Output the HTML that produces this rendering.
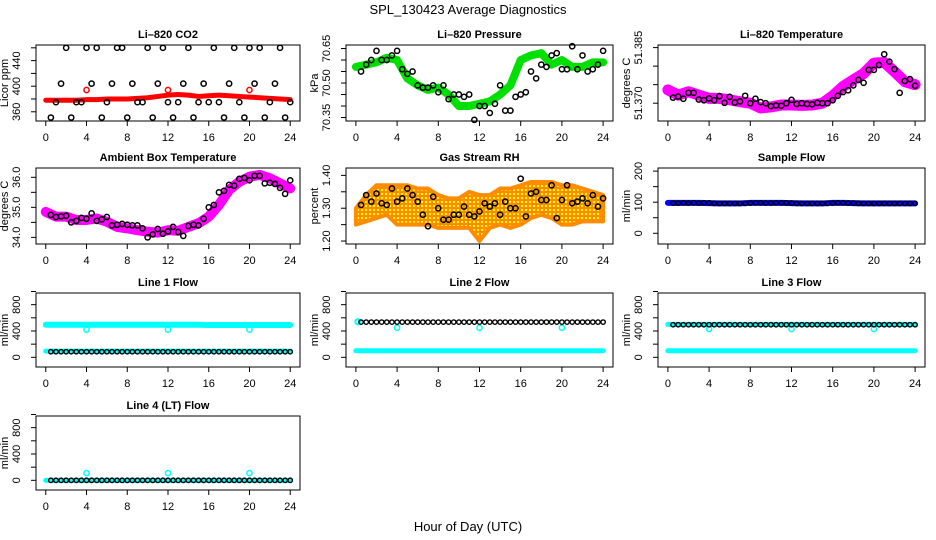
<!DOCTYPE html>
<html><head><meta charset="utf-8">
<style>
html,body{margin:0;padding:0;background:#fff;}
svg{display:block;font-family:"Liberation Sans",sans-serif;}
</style></head>
<body>
<svg id="chart" width="936" height="540" viewBox="0 0 936 540">
<defs>
<pattern id="rhpat" width="4" height="4" patternUnits="userSpaceOnUse">
<rect width="4" height="4" fill="#ff8c00"/><rect x="1" y="1" width="2" height="2" fill="#ffff00"/>
</pattern>
</defs>
<text x="468" y="14" text-anchor="middle" font-size="13">SPL_130423  Average Diagnostics</text>
<text x="468" y="531" text-anchor="middle" font-size="13">Hour of Day (UTC)</text>
</svg>
<script>
// ---- data ----
const hourlyX = [0,1,2,3,4,5,6,7,8,9,10,11,12,13,14,15,16,17,18,19,20,21,22,23,24];
const xTicks = [0,4,8,12,16,20,24];
const dipHours = [4,12,20];

const co2Red = [378,378,378,378,379,379,380,380,380,381,382,384,386,387,386,384,385,386,385,384,383,382,381,380,379];
const co2RedDips = [394,394,394];
const co2Black = [351,375,404,460,351,375,375,460,404,460,351,375,404,460,460,351,404,375,375,460,351,404,460,375,351,375,404,460,351,375,404,375,460,375,351,404,460,375,351,460,404,460,351,375,404,460,351,375];

const presGreen = [70.57,70.58,70.59,70.61,70.60,70.52,70.49,70.47,70.48,70.45,70.40,70.40,70.41,70.42,70.45,70.49,70.60,70.62,70.63,70.58,70.60,70.57,70.57,70.59,70.59];
const presBlack = [70.55,70.58,70.60,70.64,70.60,70.60,70.62,70.64,70.56,70.54,70.55,70.49,70.48,70.48,70.49,70.46,70.49,70.43,70.45,70.45,70.44,70.45,70.34,70.40,70.40,70.37,70.41,70.49,70.38,70.38,70.44,70.45,70.46,70.55,70.52,70.58,70.57,70.62,70.63,70.56,70.56,70.66,70.56,70.62,70.55,70.56,70.58,70.64];

const tempMag = [51.3736,51.3722,51.3731,51.3722,51.3713,51.3713,51.3709,51.3704,51.3700,51.3687,51.3690,51.3695,51.3695,51.3694,51.3695,51.3700,51.3720,51.3745,51.3763,51.3780,51.3808,51.3810,51.3785,51.3758,51.3750];
const tempBlack = [51.3715,51.3718,51.3712,51.3728,51.3728,51.3710,51.3708,51.3713,51.3708,51.3719,51.3701,51.3717,51.3702,51.3705,51.3720,51.3700,51.3712,51.3703,51.3700,51.3692,51.3694,51.3693,51.3700,51.3709,51.3698,51.3700,51.3698,51.3697,51.3701,51.3700,51.3700,51.3708,51.3720,51.3730,51.3735,51.3748,51.3763,51.3755,51.3790,51.3790,51.3803,51.3832,51.3812,51.3792,51.3728,51.3760,51.3765,51.3747];

const ambMag = [34.85,34.69,34.69,34.58,34.58,34.63,34.52,34.35,34.30,34.24,34.19,34.16,34.24,34.22,34.35,34.47,34.69,35.08,35.58,35.85,36.02,36.08,35.97,35.80,35.63];
const ambBlack = [34.75,34.68,34.70,34.72,34.50,34.55,34.65,34.62,34.80,34.55,34.60,34.68,34.40,34.42,34.45,34.42,34.40,34.40,34.30,34.00,34.10,34.28,34.12,34.20,34.35,34.18,34.05,34.38,34.42,34.40,34.62,35.00,35.08,35.50,35.55,35.75,35.72,35.95,35.98,35.90,36.05,36.05,35.80,35.82,35.78,35.65,35.45,35.90];

const rhHi = [1.30,1.34,1.37,1.37,1.37,1.37,1.36,1.36,1.34,1.33,1.33,1.35,1.34,1.34,1.36,1.36,1.37,1.38,1.38,1.38,1.37,1.37,1.36,1.35,1.34];
const rhLo = [1.25,1.26,1.27,1.28,1.25,1.25,1.25,1.25,1.24,1.24,1.24,1.24,1.20,1.24,1.25,1.24,1.25,1.27,1.28,1.27,1.25,1.25,1.26,1.26,1.26];
const rhBlack = [1.31,1.34,1.32,1.345,1.315,1.31,1.36,1.32,1.33,1.36,1.34,1.32,1.28,1.245,1.335,1.30,1.265,1.265,1.28,1.28,1.305,1.28,1.275,1.29,1.315,1.305,1.315,1.28,1.32,1.30,1.30,1.39,1.275,1.345,1.35,1.325,1.325,1.37,1.27,1.325,1.37,1.315,1.32,1.33,1.315,1.34,1.305,1.33];

const sampBlue = [98,98,98,98,97,96,96,96,98,98,98,98,97,96,96,96,98,98,97,96,96,96,96,96,96];
const sampBlack = [97,97,98,97,98,97,98,98,96,96,96,96,96,96,96,97,98,98,97,97,98,98,98,97,96,96,96,96,96,96,96,97,98,98,97,97,96,96,96,96,96,96,96,96,96,96,96,96];

const l1CyanHi = [495,495,495,495,495,495,495,495,495,495,495,495,495,495,495,495,490,490,490,490,490,490,490,490,490];
const l1CyanLo = [95,95,95,95,95,95,95,95,95,95,95,95,95,95,95,95,95,95,95,95,95,95,95,95,95];
const l1Dips = [420,420,420];
const l1Black = [85,85,85,85,85,85,85,85,85,85,85,85,85,85,85,85,85,85,85,85,85,85,85,85,85,85,85,85,85,85,85,85,85,85,85,85,85,85,85,85,85,85,85,85,85,85,85,85];

const l2CyanHi = [540];
const l2CyanLo = [100,100,100,100,100,100,100,100,100,100,100,100,100,100,100,100,100,100,100,100,100,100,100,100,100];
const l2Dips = [450,450,450];
const l2Black = [535,535,535,535,535,535,535,535,535,535,535,535,535,535,535,535,535,535,535,535,535,535,535,535,535,535,535,535,535,535,535,535,535,535,535,535,535,535,535,535,535,535,535,535,535,535,535,535];

const l3CyanHi = [500,500,500,500,500,500,500,500,500,500,500,500,500,500,500,500,500,500,500,500,500,500,500,500,500];
const l3CyanLo = [100,100,100,100,100,100,100,100,100,100,100,100,100,100,100,100,100,100,100,100,100,100,100,100,100];
const l3Dips = [430,430,430];
const l3Black = [495,495,495,495,495,495,495,495,495,495,495,495,495,495,495,495,495,495,495,495,495,495,495,495,495,495,495,495,495,495,495,495,495,495,495,495,495,495,495,495,495,495,495,495,495,495,495,495];

const l4CyanLo = [0,0,0,0,0,0,0,0,0,0,0,0,0,0,0,0,0,0,0,0,0,0,0,0,0];
const l4Dips = [110,110,110];
const l4Black = [0,0,0,0,0,0,0,0,0,0,0,0,0,0,0,0,0,0,0,0,0,0,0,0,0,0,0,0,0,0,0,0,0,0,0,0,0,0,0,0,0,0,0,0,0,0,0,0];

const flowTicks = [0,200,400,600,800,1000];
const flowLabels = [0,400,800];

// ---- drawing ----
const svg = document.getElementById('chart');
const NS = 'http://www.w3.org/2000/svg';
function mk(tag, attrs, parent){ const e = document.createElementNS(NS, tag); for (const k in attrs) e.setAttribute(k, attrs[k]); (parent||svg).appendChild(e); return e; }
const cols = [[36,300],[346,613],[658,925]];
const rows = [[45,121],[168,244],[293,367],[416,490]];
const halfX = []; for (let i=1;i<=48;i++) halfX.push(i*0.5);

function panel(p){
  const [L,R] = cols[p.col], [T,B] = rows[p.row];
  const g = mk('g', {});
  
  
  const xs = h => L + (h + 0.96) / 25.92 * (R - L);
  const ys = v => B - (v - p.ymin) / (p.ymax - p.ymin) * (B - T);
  p.xs = xs; p.ys = ys; p.g = g;
  const t = mk('text', {x:(L+R)/2, y:T-7, 'text-anchor':'middle', 'font-size':11, 'font-weight':'bold'}, g);
  t.textContent = p.title;
  
  
  p.draw(p);
  const box = mk('rect', {x:L, y:T, width:R-L, height:B-T, fill:'none', stroke:'#000', 'stroke-width':1}, g);
  
  
  xTicks.forEach(v => {
    const x = xs(v);
    mk('line', {x1:x, x2:x, y1:B, y2:B+5, stroke:'#000'}, g);
    const tx = mk('text', {x:x, y:B+20, 'text-anchor':'middle', 'font-size':11}, g);
    tx.textContent = v;
    
    
  });
  p.yticks.forEach(v => {
    const y = ys(v);
    mk('line', {x1:L-5, x2:L, y1:y, y2:y, stroke:'#000'}, g);
  });
  p.ylabels.forEach(v => {
    const y = ys(v);
    const tx = mk('text', {x:0, y:0, 'text-anchor':'middle', 'font-size':11, transform:`translate(${L-16},${y}) rotate(-90)`}, g);
    tx.textContent = typeof v === 'number' && p.dec !== undefined ? v.toFixed(p.dec) : v;
    
    
  });
  const yt = mk('text', {x:0, y:0, 'text-anchor':'middle', 'font-size':11, transform:`translate(${L-28},${(T+B)/2}) rotate(-90)`}, g);
  yt.textContent = p.ytitle;
  
  
}
function band(p, xsArr, vals, color, w, name){
  const pts = vals.map((v,i) => p.xs(xsArr[i]) + ',' + p.ys(v)).join(' ');
  const pl = mk('polyline', {points:pts, fill:'none', stroke:color, 'stroke-width':w, 'stroke-linejoin':'round', 'stroke-linecap':'round'}, p.g);
  
  
}
function area(p, hi, lo, fill, name){
  const a = hi.map((v,i) => p.xs(hourlyX[i]) + ',' + p.ys(v));
  const b = lo.map((v,i) => p.xs(hourlyX[i]) + ',' + p.ys(v)).reverse();
  const pg = mk('polygon', {points:a.concat(b).join(' '), fill:fill, stroke:'#ff8c00', 'stroke-width':4, 'stroke-linejoin':'round'}, p.g);
  
  
}
function dots(p, xsArr, vals, color, r, sw, name){
  vals.forEach((v,i) => {
    const c = mk('circle', {cx:p.xs(xsArr[i]), cy:p.ys(v), r:r, fill:'none', stroke:color, 'stroke-width':sw}, p.g);
    
    
  });
}

panel({name:'co2-panel', col:0,row:0,title:'Li\u2013820 CO2',ytitle:'Licor ppm',ymin:345.6,ymax:464.4,
  yticks:[360,380,400,420,440,460], ylabels:[360,400,440],
  draw:p=>{ band(p,hourlyX,co2Red,'#ff0000',5,'co2-red-series'); dots(p,dipHours,co2RedDips,'#ff0000',2.6,1.5,'co2-red-point'); dots(p,halfX,co2Black,'#000',2.6,1.5,'co2-black-point'); }});
panel({name:'pressure-panel', col:1,row:0,title:'Li\u2013820 Pressure',ytitle:'kPa',ymin:70.3349,ymax:70.6653,dec:2,
  yticks:[70.35,70.40,70.45,70.50,70.55,70.60,70.65], ylabels:[70.35,70.50,70.65],
  draw:p=>{ band(p,hourlyX,presGreen,'#00e000',8,'pressure-green-series'); dots(p,halfX,presBlack,'#000',2.6,1.5,'pressure-black-point'); }});
panel({name:'licor-temp-panel', col:2,row:0,title:'Li\u2013820 Temperature',ytitle:'degrees C',ymin:51.3652,ymax:51.3857,dec:3,
  yticks:[51.370,51.375,51.380,51.385], ylabels:[51.370,51.385],
  draw:p=>{ band(p,hourlyX,tempMag,'#ff00ff',11,'temp-magenta-series'); dots(p,halfX,tempBlack,'#000',2.6,1.5,'temp-black-point'); }});
panel({name:'ambient-temp-panel', col:0,row:1,title:'Ambient Box Temperature',ytitle:'degrees C',ymin:33.78,ymax:36.31,dec:1,
  yticks:[34.0,34.5,35.0,35.5,36.0], ylabels:[34.0,35.0,36.0],
  draw:p=>{ band(p,hourlyX,ambMag,'#ff00ff',10,'ambient-magenta-series'); dots(p,halfX,ambBlack,'#000',2.6,1.5,'ambient-black-point'); }});
panel({name:'rh-panel', col:1,row:1,title:'Gas Stream RH',ytitle:'percent',ymin:1.191,ymax:1.4225,dec:2,
  yticks:[1.20,1.25,1.30,1.35,1.40], ylabels:[1.20,1.30,1.40],
  draw:p=>{ area(p,rhHi,rhLo,'url(#rhpat)','rh-orange-band'); dots(p,halfX,rhBlack,'#000',2.6,1.5,'rh-black-point'); }});
panel({name:'sample-flow-panel', col:2,row:1,title:'Sample Flow',ytitle:'ml/min',ymin:-34.5,ymax:210,
  yticks:[0,50,100,150,200], ylabels:[0,100,200],
  draw:p=>{ band(p,hourlyX,sampBlue,'#0000ff',6,'sample-blue-series'); dots(p,halfX,sampBlack,'#000',2.2,1.3,'sample-black-point'); }});
const FMIN = -147, FMAX = 977;
panel({name:'line1-flow-panel', col:0,row:2,title:'Line 1 Flow',ytitle:'ml/min',ymin:FMIN,ymax:FMAX,
  yticks:flowTicks, ylabels:flowLabels,
  draw:p=>{ band(p,hourlyX,l1CyanHi,'#00ffff',6,'line1-cyan-high'); band(p,hourlyX,l1CyanLo,'#00ffff',5,'line1-cyan-low'); dots(p,dipHours,l1Dips,'#00ffff',2.6,1.5,'line1-cyan-dip'); dots(p,halfX,l1Black,'#000',2.2,1.4,'line1-black-point'); }});
panel({name:'line2-flow-panel', col:1,row:2,title:'Line 2 Flow',ytitle:'ml/min',ymin:FMIN,ymax:FMAX,
  yticks:flowTicks, ylabels:flowLabels,
  draw:p=>{ dots(p,[0.2],l2CyanHi,'#00ffff',2.6,2,'line2-cyan-start'); band(p,hourlyX,l2CyanLo,'#00ffff',5,'line2-cyan-low'); dots(p,dipHours,l2Dips,'#00ffff',2.6,1.5,'line2-cyan-dip'); dots(p,halfX,l2Black,'#000',2.2,1.4,'line2-black-point'); }});
panel({name:'line3-flow-panel', col:2,row:2,title:'Line 3 Flow',ytitle:'ml/min',ymin:FMIN,ymax:FMAX,
  yticks:flowTicks, ylabels:flowLabels,
  draw:p=>{ band(p,hourlyX,l3CyanHi,'#00ffff',5,'line3-cyan-high'); band(p,hourlyX,l3CyanLo,'#00ffff',5,'line3-cyan-low'); dots(p,dipHours,l3Dips,'#00ffff',2.6,1.5,'line3-cyan-dip'); dots(p,halfX,l3Black,'#000',2.2,1.4,'line3-black-point'); }});
panel({name:'line4-flow-panel', col:0,row:3,title:'Line 4 (LT) Flow',ytitle:'ml/min',ymin:FMIN,ymax:FMAX,
  yticks:flowTicks, ylabels:flowLabels,
  draw:p=>{ band(p,hourlyX,l4CyanLo,'#00ffff',5,'line4-cyan-series'); dots(p,dipHours,l4Dips,'#00ffff',2.6,1.5,'line4-cyan-spike'); dots(p,halfX,l4Black,'#000',2.2,1.4,'line4-black-point'); }});
</script>
</body></html>
